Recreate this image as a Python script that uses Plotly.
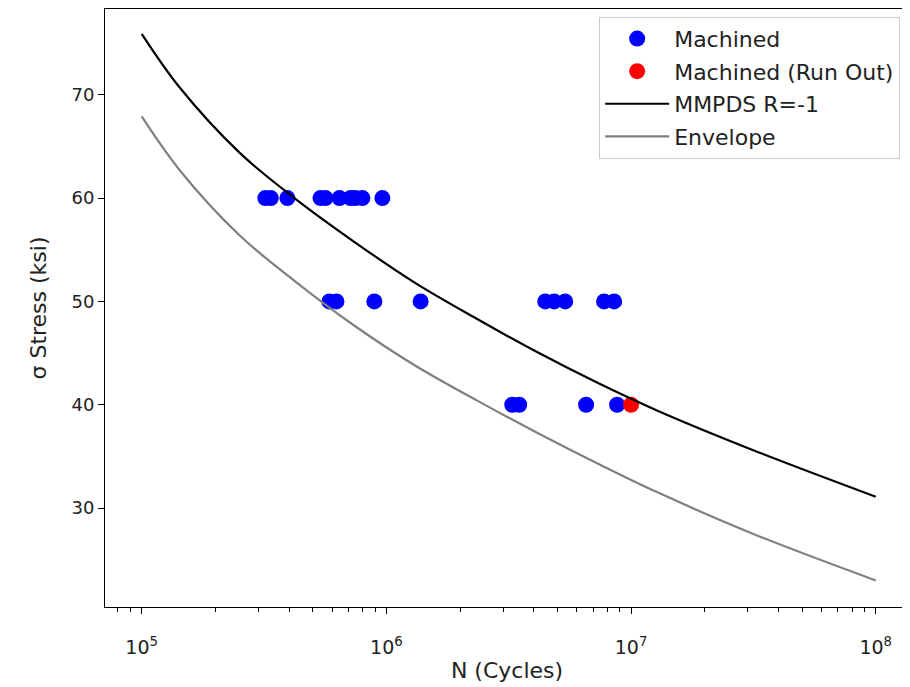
import plotly.graph_objects as go

# Test data
mach_n = [3.2e5, 3.37e5, 3.94e5, 5.38e5, 5.64e5, 6.43e5, 7.13e5, 7.47e5, 7.98e5, 9.63e5,
          5.85e5, 6.25e5, 8.93e5, 1.38e6, 4.46e6, 4.85e6, 5.38e6, 7.76e6, 8.53e6,
          3.27e6, 3.49e6, 6.55e6, 8.77e6]
mach_s = [60, 60, 60, 60, 60, 60, 60, 60, 60, 60,
          50, 50, 50, 50, 50, 50, 50, 50, 50,
          40, 40, 40, 40]
runout_n = [1.0e7]
runout_s = [40]

# Curves
curve_n = [1e5, 1.43e5, 2.51e5, 4.21e5, 7.46e5, 1.31e6, 2.35e6, 4.13e6, 7.33e6,
           1.29e7, 3.16e7, 1e8]
mmpds_s = [75.9, 70.7, 64.4, 60.0, 55.7, 51.8, 48.3, 45.1, 42.1, 39.4, 35.6, 31.1]
envelope_s = [67.9, 62.7, 56.4, 52.0, 47.6, 43.8, 40.4, 37.3, 34.3, 31.5, 27.5, 23.0]

x_tickvals = [1e5, 1e6, 1e7, 1e8]
x_ticktext = ["10<sup>5</sup>", "10<sup>6</sup>", "10<sup>7</sup>", "10<sup>8</sup>"]
y_tickvals = [30, 40, 50, 60, 70]

minor_vals = [m * 10 ** k for k in range(4, 9) for m in range(2, 10)]

FONT = "DejaVu Sans"

fig = go.Figure()
fig.add_trace(go.Scatter(x=mach_n, y=mach_s, mode="markers", name="Machined",
                         legendgroup="a", marker=dict(color="blue", size=16)))
fig.add_trace(go.Scatter(x=runout_n, y=runout_s, mode="markers", name="Machined (Run Out)",
                         legendgroup="b", marker=dict(color="red", size=16)))
fig.add_trace(go.Scatter(x=curve_n, y=mmpds_s, mode="lines", name="MMPDS R=-1",
                         legendgroup="c",
                         line=dict(color="black", width=2.2, shape="spline", smoothing=1.0)))
fig.add_trace(go.Scatter(x=curve_n, y=envelope_s, mode="lines", name="Envelope",
                         legendgroup="d",
                         line=dict(color="gray", width=2.2, shape="spline", smoothing=1.0)))

fig.update_layout(
    width=902, height=679,
    margin=dict(l=97, r=1, t=1, b=80),
    paper_bgcolor="white", plot_bgcolor="white",
    font=dict(family=FONT, size=22, color="#222"),
    showlegend=True,
    legend=dict(x=0.989, y=0.987, xanchor="right", yanchor="top",
                bgcolor="white", bordercolor="#cccccc", borderwidth=1,
                font=dict(size=22), tracegroupgap=1, itemwidth=64),
    xaxis=dict(type="log", range=[4.85, 8.136],
               tickvals=x_tickvals, ticktext=x_ticktext,
               ticks="outside", ticklen=6, tickcolor="black",
               tickfont=dict(size=19), ticklabelstandoff=17,
               minor=dict(tickvals=minor_vals, ticks="outside", ticklen=3.5, tickcolor="black"),
               showgrid=False, zeroline=False,
               showline=True, linecolor="black", linewidth=1, mirror=True,
               title=dict(text="N (Cycles)", font=dict(size=22), standoff=5)),
    yaxis=dict(range=[20.43, 78.3], tickvals=y_tickvals,
               ticks="outside", ticklen=6, tickcolor="black",
               tickfont=dict(size=18),
               showgrid=False, zeroline=False,
               showline=True, linecolor="black", linewidth=1, mirror=True,
               title=dict(text="σ Stress (ksi)", font=dict(size=22), standoff=18)),
)

fig.write_html("out.html")
